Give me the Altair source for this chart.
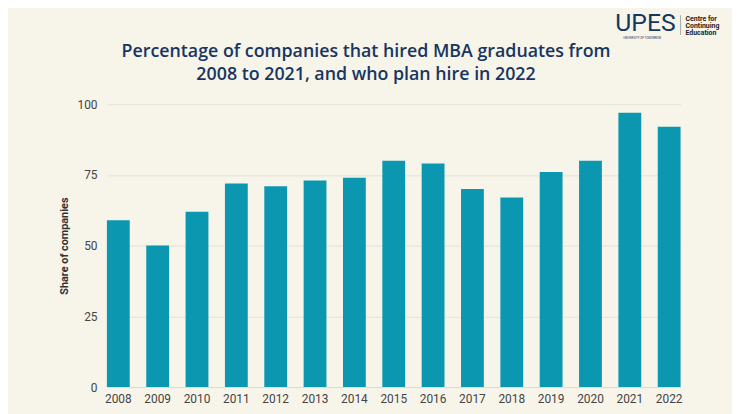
import altair as alt
import pandas as pd

years = ["2008", "2009", "2010", "2011", "2012", "2013", "2014", "2015",
         "2016", "2017", "2018", "2019", "2020", "2021", "2022"]
shares = [59, 50, 62, 72, 71, 73, 74, 80, 79, 70, 67, 76, 80, 97, 92]
y_ticks = [0, 25, 50, 75, 100]
title_lines = ["Percentage of companies that hired MBA graduates from",
               "2008 to 2021, and who plan hire in 2022"]

df = pd.DataFrame({"year": years, "share": shares})

BG = "#f7f4ea"
BAR = "#0b97b0"
NAVY = "#17365f"

bars = alt.Chart(df).mark_bar(color=BAR).encode(
    x=alt.X("year:N", sort=years,
            scale=alt.Scale(paddingInner=0.42, paddingOuter=0),
            axis=alt.Axis(title=None, labelAngle=0, domain=True, domainColor="#dcdcd4",
                          ticks=False, labelPadding=7, labelFont="Roboto",
                          labelFontSize=12, labelColor="#444444")),
    y=alt.Y("share:Q", scale=alt.Scale(domain=[0, 100], nice=False),
            axis=alt.Axis(title="Share of companies", values=y_ticks, domain=False,
                          ticks=False, labelPadding=10, labelFont="Roboto",
                          labelFontSize=12, labelColor="#444444",
                          gridColor="#e4e2d8", gridWidth=1,
                          titleFont="Roboto", titleFontSize=11, titleFontWeight="bold",
                          titleColor="#333333", titlePadding=8)),
)

title = alt.Chart(pd.DataFrame({"t": title_lines, "yy": [-53, -29]})).mark_text(
    font="Open Sans", fontSize=18, fontWeight=600, color=NAVY, align="center", baseline="middle"
).encode(text="t:N", x=alt.value(262), y=alt.Y("yy:Q", scale=None))

logo_upes = alt.Chart(pd.DataFrame({"t": ["UPES"]})).mark_text(
    font="Roboto", fontSize=25, fontWeight=400, color=NAVY, align="left", baseline="alphabetic"
).encode(text="t:N", x=alt.value(514), y=alt.value(-74))

logo_sub = alt.Chart(pd.DataFrame({"t": ["UNIVERSITY OF TOMORROW"]})).mark_text(
    font="Roboto", fontSize=3, color=NAVY, align="left", baseline="alphabetic"
).encode(text="t:N", x=alt.value(522), y=alt.value(-66))

logo_rule = alt.Chart(pd.DataFrame({"a": [0]})).mark_rule(color="#888888", strokeWidth=0.7).encode(
    x=alt.value(580), y=alt.value(-90), y2=alt.value(-70)
)

logo_txt = alt.Chart(pd.DataFrame({"t": ["Centre for", "Continuing", "Education"],
                                   "yy": [-86, -79, -72]})).mark_text(
    font="Roboto", fontSize=7, fontWeight="bold", color="#222222", align="left", baseline="middle"
).encode(text="t:N", x=alt.value(585), y=alt.Y("yy:Q", scale=None))

chart = alt.layer(bars, title, logo_upes, logo_sub, logo_rule, logo_txt).properties(
    width=580, height=286,
    background=BG,
    padding={"left": 100, "top": 95, "right": 52, "bottom": 25},
    autosize=alt.AutoSizeParams(type="none"),
).configure_view(stroke=None)

chart.save("out.html", embed_options={"renderer": "svg", "actions": False})
